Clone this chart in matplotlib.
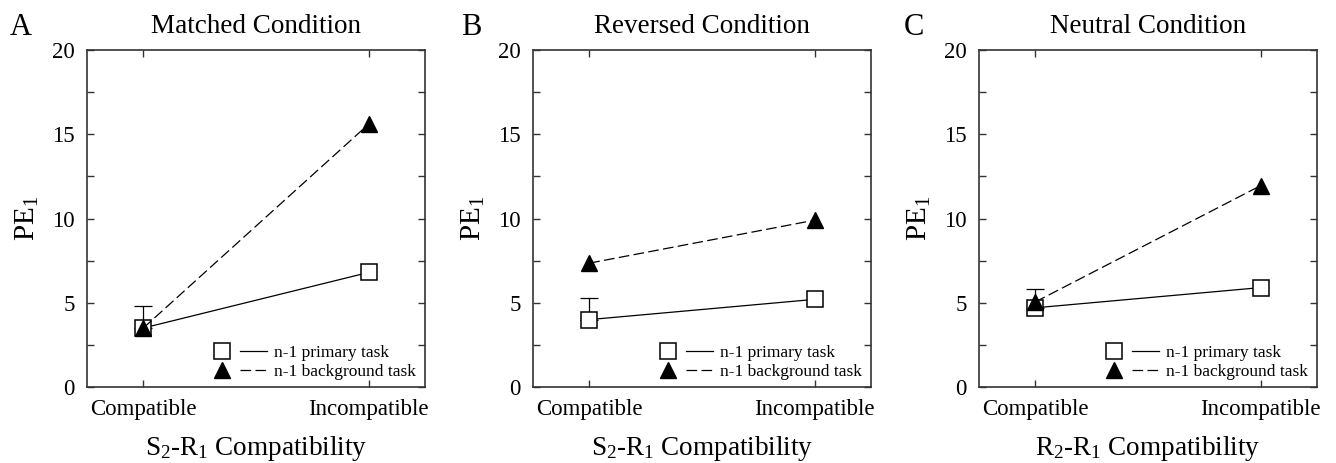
import matplotlib
matplotlib.use("Agg")
import matplotlib.pyplot as plt
from matplotlib.lines import Line2D
from matplotlib.legend_handler import HandlerTuple
from matplotlib.ticker import MultipleLocator

plt.rcParams['font.family'] = ['Liberation Serif', 'DejaVu Serif']
plt.rcParams['mathtext.fontset'] = 'custom'
plt.rcParams['mathtext.rm'] = 'Liberation Serif'
plt.rcParams['mathtext.it'] = 'Liberation Serif:italic'

categories = ['Compatible', 'Incompatible']
panel_letters = ['A', 'B', 'C']
titles = ['Matched Condition', 'Reversed Condition', 'Neutral Condition']
xlabels = [r'S$_2$-R$_1$ Compatibility', r'S$_2$-R$_1$ Compatibility', r'R$_2$-R$_1$ Compatibility']
primary = [[3.5, 6.8], [4.0, 5.2], [4.7, 5.9]]
background = [[3.5, 15.6], [7.35, 9.9], [5.05, 11.95]]
err_top = [1.3, 1.3, 1.1]
legend_labels = ['n-1 primary task', 'n-1 background task']

fig = plt.figure(figsize=(13.36, 4.63), dpi=100)
lefts = [87 / 1336, 533 / 1336, 979 / 1336]
letter_x = [10 / 1336, 461 / 1336, 904 / 1336]
w = 338 / 1336
b = 1 - 387 / 463
h = 337 / 463
spine_col = '#333333'
dash = (0, (8.5, 3.5))

for i in range(3):
    ax = fig.add_axes([lefts[i], b, w, h])
    x = list(range(len(categories)))
    ax.errorbar([x[0]], [primary[i][0]], yerr=[[0], [err_top[i]]], fmt='none',
                ecolor='black', elinewidth=0.9, capsize=6.5, capthick=0.9, zorder=1)
    ax.plot(x, primary[i], color='black', lw=0.9, ls='-', marker='s', ms=11,
            mfc='white', mec='black', mew=1.1, zorder=3)
    ax.plot(x, background[i], color='black', lw=0.9, ls=dash, marker='^', ms=12,
            mfc='black', mec='black', zorder=4)
    ax.set_xlim(-0.25, 1.25)
    ax.set_ylim(0, 20)
    ax.set_xticks(x)
    ax.set_xticklabels(categories)
    ax.yaxis.set_major_locator(MultipleLocator(5))
    ax.yaxis.set_minor_locator(MultipleLocator(2.5))
    ax.tick_params(axis='both', which='both', direction='in', top=True, right=True,
                   color=spine_col, width=1.0)
    ax.tick_params(axis='both', which='major', length=5, labelsize=16.5, pad=9)
    ax.tick_params(axis='y', which='minor', length=5)
    for s in ax.spines.values():
        s.set_color(spine_col)
        s.set_linewidth(1.2)
    ax.set_title(titles[i], fontsize=19.5, pad=12)
    ax.set_xlabel(xlabels[i], fontsize=19.5, labelpad=10)
    ax.set_ylabel(r'PE$_1$', fontsize=21, labelpad=8)

    h1 = (Line2D([], [], ls='none', marker='s', ms=11, mfc='white', mec='black', mew=1.1),
          Line2D([], [], color='black', lw=0.9, ls='-'))
    h2 = (Line2D([], [], ls='none', marker='^', ms=12, mfc='black', mec='black'),
          Line2D([], [], color='black', lw=0.9, ls=dash))
    ax.legend([h1, h2], legend_labels, handler_map={tuple: HandlerTuple(ndivide=None, pad=0.2)},
              loc='lower right', bbox_to_anchor=(0.982, 0.012), frameon=False, fontsize=12.5,
              handlelength=3.4, handletextpad=0.4, labelspacing=0.2, borderaxespad=0.0,
              borderpad=0.15)

    fig.text(letter_x[i], 1 - 13 / 463, panel_letters[i], fontsize=22, va='top', ha='left')

fig.savefig('out.png', dpi=100)
